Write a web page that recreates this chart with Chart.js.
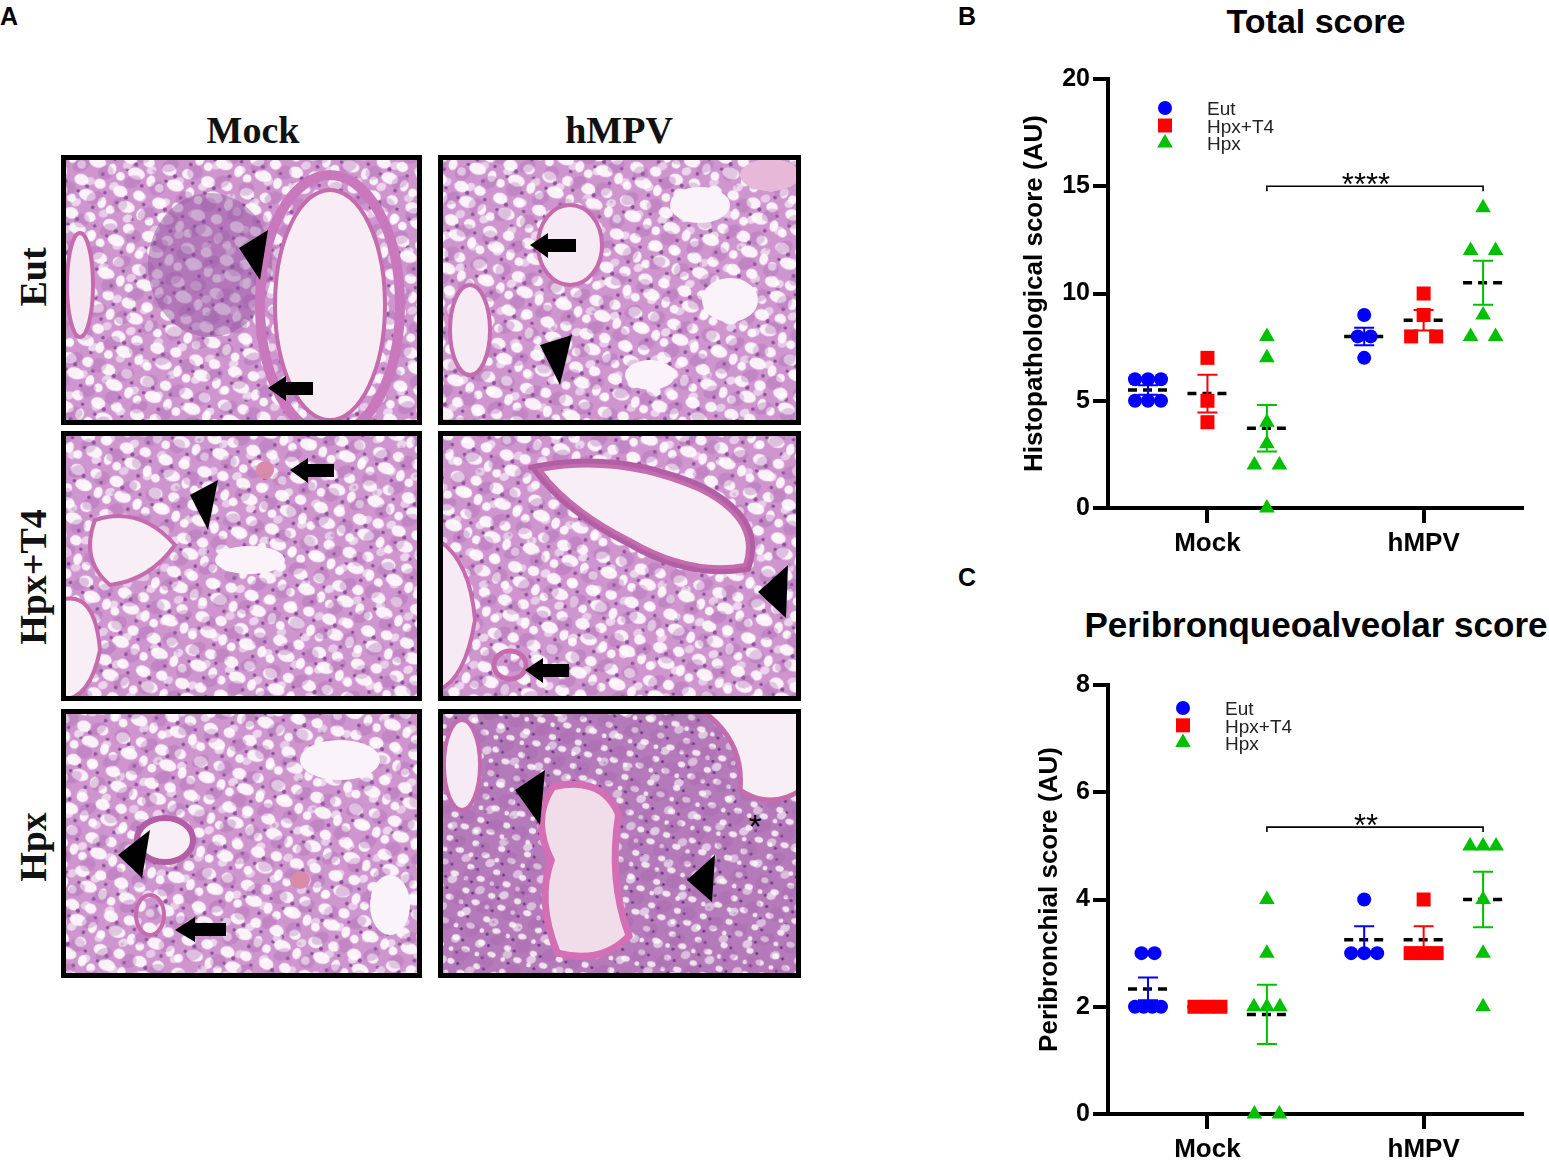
<!DOCTYPE html>
<html>
<head>
<meta charset="utf-8">
<title>Histopathological scores</title>
<script src="https://cdn.jsdelivr.net/npm/chart.js@4.4.1/dist/chart.umd.min.js"></script>
<style>
  body { margin: 0; width: 1549px; height: 1160px; overflow: hidden; background: #fff; position: relative;
         font-family: "Liberation Sans", Arial, sans-serif; }
  .letter { position: absolute; font-weight: bold; font-size: 25px; line-height: 25px; }
  .title { position: absolute; left: 1066px; width: 500px; text-align: center; font-weight: bold;
           line-height: 40px; white-space: nowrap; }
  canvas { position: absolute; }
  #panelA { position: absolute; left: 0; top: 0; }
</style>
</head>
<body>

<svg id="panelA" width="960" height="1000" viewBox="0 0 960 1000">
  <defs>
    <pattern id="tissue" width="28" height="24" patternUnits="userSpaceOnUse" patternTransform="rotate(17) scale(1.45)">
      <rect width="28" height="24" fill="#cf95cf"/>
      <ellipse cx="6" cy="6" rx="5" ry="4" fill="#fbf1f9"/>
      <ellipse cx="19" cy="5" rx="4" ry="3.5" fill="#fbf1f9"/>
      <ellipse cx="13" cy="15" rx="6" ry="4" fill="#fbf1f9"/>
      <ellipse cx="3" cy="20" rx="3" ry="3" fill="#fbf1f9"/>
      <ellipse cx="24" cy="17" rx="3" ry="4" fill="#fbf1f9"/>
      <circle cx="11" cy="9" r="1.4" fill="#8e4f9c"/>
      <circle cx="24" cy="10" r="1.2" fill="#8e4f9c"/>
      <circle cx="6" cy="14" r="1.2" fill="#8e4f9c"/>
      <circle cx="19" cy="22" r="1.3" fill="#8e4f9c"/>
    </pattern>
    <pattern id="tissue2" width="41" height="35" patternUnits="userSpaceOnUse" patternTransform="rotate(-23)">
      <ellipse cx="10" cy="9" rx="9" ry="6" fill="#a763ae" opacity="0.35"/>
      <ellipse cx="30" cy="25" rx="8" ry="7" fill="#a763ae" opacity="0.3"/>
      <ellipse cx="32" cy="6" rx="5" ry="4" fill="#ffffff" opacity="0.6"/>
      <ellipse cx="12" cy="27" rx="5" ry="4" fill="#ffffff" opacity="0.5"/>
    </pattern>
    <pattern id="dense" width="22" height="20" patternUnits="userSpaceOnUse" patternTransform="rotate(12) scale(1.2)">
      <rect width="22" height="20" fill="#b47ab9"/>
      <ellipse cx="6" cy="5" rx="3" ry="2.5" fill="#f3e3f1"/>
      <ellipse cx="16" cy="13" rx="3.5" ry="2.5" fill="#f3e3f1"/>
      <ellipse cx="4" cy="15" rx="2" ry="2" fill="#f3e3f1"/>
      <circle cx="12" cy="6" r="1.3" fill="#6e3b86"/>
      <circle cx="9" cy="17" r="1.3" fill="#6e3b86"/>
    </pattern>
    <clipPath id="c1"><rect x="61" y="155" width="361" height="270"/></clipPath>
    <clipPath id="c2"><rect x="438" y="155" width="363" height="270"/></clipPath>
    <clipPath id="c3"><rect x="61" y="431" width="361" height="270"/></clipPath>
    <clipPath id="c4"><rect x="438" y="431" width="363" height="270"/></clipPath>
    <clipPath id="c5"><rect x="61" y="709" width="361" height="269"/></clipPath>
    <clipPath id="c6"><rect x="438" y="709" width="363" height="269"/></clipPath>
  </defs>

  <g font-family="'Liberation Serif', 'Times New Roman', serif" font-weight="bold" font-size="38" fill="#111">
    <text x="253" y="143" text-anchor="middle">Mock</text>
    <text x="619" y="143" text-anchor="middle">hMPV</text>
    <text transform="translate(46 277) rotate(-90)" text-anchor="middle">Eut</text>
    <text transform="translate(46 577) rotate(-90)" text-anchor="middle">Hpx+T4</text>
    <text transform="translate(46 847) rotate(-90)" text-anchor="middle">Hpx</text>
  </g>

  <!-- Mock / Eut -->
  <g clip-path="url(#c1)">
    <rect x="61" y="155" width="361" height="270" fill="url(#tissue)"/>
    <rect x="61" y="155" width="361" height="270" fill="url(#tissue2)"/>
    <ellipse cx="210" cy="265" rx="62" ry="72" fill="#8f4f9e" opacity="0.45"/>
    <ellipse cx="330" cy="305" rx="70" ry="130" fill="none" stroke="#c978bd" stroke-width="10"/>
    <ellipse cx="330" cy="305" rx="55" ry="115" fill="#f8edf5" stroke="#c46cae" stroke-width="4"/>
    <ellipse cx="80" cy="285" rx="13" ry="52" fill="#f5e8f2" stroke="#c46cae" stroke-width="4"/>
    <polygon points="239,248 268,230 260,280" fill="#000"/>
    <polygon points="268,388 286,376 286,382 313,382 313,395 286,395 286,401" fill="#000"/>
  </g>
  <!-- hMPV / Eut -->
  <g clip-path="url(#c2)">
    <rect x="438" y="155" width="363" height="270" fill="url(#tissue)"/>
    <rect x="438" y="155" width="363" height="270" fill="url(#tissue2)"/>
    <ellipse cx="570" cy="245" rx="32" ry="40" fill="#f6ebf4" stroke="#c46cae" stroke-width="4"/>
    <ellipse cx="470" cy="330" rx="20" ry="45" fill="#f6ebf4" stroke="#c46cae" stroke-width="4"/>
    <ellipse cx="700" cy="205" rx="30" ry="18" fill="#fbf3fa"/>
    <ellipse cx="730" cy="300" rx="28" ry="22" fill="#fbf3fa"/>
    <ellipse cx="650" cy="375" rx="25" ry="15" fill="#fbf3fa"/>
    <ellipse cx="770" cy="175" rx="30" ry="16" fill="#e8b8d8"/>
    <polygon points="530,245 548,233 548,239 576,239 576,252 548,252 548,258" fill="#000"/>
    <polygon points="540,345 572,335 560,385" fill="#000"/>
  </g>
  <!-- Mock / Hpx+T4 -->
  <g clip-path="url(#c3)">
    <rect x="61" y="431" width="361" height="270" fill="url(#tissue)"/>
    <rect x="61" y="431" width="361" height="270" fill="url(#tissue2)"/>
    <path d="M95 520 Q140 505 175 545 Q150 580 110 585 Q80 560 95 520 Z" fill="#f8eef6" stroke="#c46cae" stroke-width="4"/>
    <path d="M61 600 Q95 590 100 650 Q90 700 61 700 Z" fill="#f8eef6" stroke="#c46cae" stroke-width="4"/>
    <ellipse cx="250" cy="560" rx="35" ry="14" fill="#fbf3fa"/>
    <ellipse cx="265" cy="470" rx="9" ry="9" fill="#d98aa8"/>
    <polygon points="190,495 218,480 208,530" fill="#000"/>
    <polygon points="290,470 308,458 308,464 334,464 334,477 308,477 308,483" fill="#000"/>
  </g>
  <!-- hMPV / Hpx+T4 -->
  <g clip-path="url(#c4)">
    <rect x="438" y="431" width="363" height="270" fill="url(#tissue)"/>
    <rect x="438" y="431" width="363" height="270" fill="url(#tissue2)"/>
    <path d="M540 470 Q620 455 700 490 Q760 520 745 565 Q690 575 630 540 Q570 510 540 470 Z" fill="none" stroke="#b25ea5" stroke-width="14"/>
    <path d="M540 470 Q620 455 700 490 Q760 520 745 565 Q690 575 630 540 Q570 510 540 470 Z" fill="#f8eef6" stroke="#c46cae" stroke-width="4"/>
    <path d="M438 540 Q470 560 475 620 Q465 680 438 690 Z" fill="#f6ebf4" stroke="#c46cae" stroke-width="4"/>
    <ellipse cx="510" cy="665" rx="16" ry="14" fill="none" stroke="#c46cae" stroke-width="5"/>
    <polygon points="758,592 788,565 786,618" fill="#000"/>
    <polygon points="525,670 543,658 543,664 569,664 569,677 543,677 543,683" fill="#000"/>
  </g>
  <!-- Mock / Hpx -->
  <g clip-path="url(#c5)">
    <rect x="61" y="709" width="361" height="269" fill="url(#tissue)"/>
    <rect x="61" y="709" width="361" height="269" fill="url(#tissue2)"/>
    <ellipse cx="165" cy="840" rx="28" ry="22" fill="#f8eef6" stroke="#b25ea5" stroke-width="6"/>
    <ellipse cx="150" cy="915" rx="14" ry="20" fill="none" stroke="#c46cae" stroke-width="4"/>
    <ellipse cx="340" cy="760" rx="40" ry="20" fill="#fbf3fa"/>
    <ellipse cx="390" cy="905" rx="20" ry="30" fill="#fbf3fa"/>
    <ellipse cx="300" cy="880" rx="10" ry="9" fill="#d98aa8"/>
    <polygon points="118,855 150,830 142,878" fill="#000"/>
    <polygon points="175,930 195,917 195,923 226,923 226,936 195,936 195,942" fill="#000"/>
  </g>
  <!-- hMPV / Hpx -->
  <g clip-path="url(#c6)">
    <rect x="438" y="709" width="363" height="269" fill="url(#dense)"/>
    <rect x="438" y="709" width="363" height="269" fill="url(#tissue2)"/>
    <path d="M555 790 Q600 780 615 815 Q605 880 625 935 Q600 960 560 950 Q540 900 555 860 Q535 820 555 790 Z" fill="none" stroke="#d46fb5" stroke-width="14"/>
    <path d="M555 790 Q600 780 615 815 Q605 880 625 935 Q600 960 560 950 Q540 900 555 860 Q535 820 555 790 Z" fill="#f1dde9"/>
    <path d="M700 709 Q745 740 740 790 Q770 810 801 790 L801 709 Z" fill="#f8eef6" stroke="#c46cae" stroke-width="5"/>
    <ellipse cx="462" cy="765" rx="18" ry="45" fill="#f6ebf4" stroke="#c46cae" stroke-width="4"/>
    <polygon points="515,790 545,770 540,825" fill="#000"/>
    <polygon points="687,880 715,855 712,902" fill="#000"/>
    <text x="755" y="838" font-family="'Liberation Sans', Arial, sans-serif" font-size="34" text-anchor="middle" fill="#000">*</text>
  </g>

  <g fill="none" stroke="#000" stroke-width="5">
    <rect x="63.5" y="157.5" width="356" height="265"/>
    <rect x="440.5" y="157.5" width="358" height="265"/>
    <rect x="63.5" y="433.5" width="356" height="265"/>
    <rect x="440.5" y="433.5" width="358" height="265"/>
    <rect x="63.5" y="711.5" width="356" height="264"/>
    <rect x="440.5" y="711.5" width="358" height="264"/>
  </g>
</svg>

<div class="letter" style="left:0;top:4px">A</div>
<div class="letter" style="left:958px;top:4px">B</div>
<div class="letter" style="left:958px;top:565px">C</div>
<div class="title" style="top:1px;font-size:34px">Total score</div>
<div class="title" style="top:605px;font-size:35px">Peribronqueoalveolar score</div>

<canvas id="chartB" width="549" height="575" style="left:1000px;top:0"></canvas>
<canvas id="chartC" width="549" height="560" style="left:1000px;top:600px"></canvas>

<script>
const groups = ['Mock', 'hMPV'];
const seriesNames = ['Eut', 'Hpx+T4', 'Hpx'];
const seriesColors = ['#0000ff', '#ff0000', '#00c000'];
const seriesShapes = ['circle', 'rect', 'triangle'];
const seriesRadius = [7, 9.9, 9];

// B - total histopathological score, [Mock, hMPV] for each series
const totalEut = [[6, 6, 6, 5, 5, 5], [9, 8, 8, 7]];
const totalHpxT4 = [[7, 5, 4], [10, 9, 8, 8]];
const totalHpx = [[8, 7, 4, 3, 2, 2, 0], [14, 12, 12, 9, 8, 8]];
const totalTicks = [0, 5, 10, 15, 20];
const totalSig = ['****', 15];

// C - peribronchial score
const periEut = [[3, 3, 2, 2, 2, 2], [4, 3, 3, 3]];
const periHpxT4 = [[2, 2, 2], [4, 3, 3, 3]];
const periHpx = [[4, 3, 2, 2, 2, 0, 0], [5, 5, 5, 4, 3, 2]];
const periTicks = [0, 2, 4, 6, 8];
const periSig = ['**', 5.35];

// x axis: Mock = 1, hMPV = 2
const X_MIN = 0.54, X_MAX = 2.455, PLOT_W = 414;
const PX = PLOT_W / (X_MAX - X_MIN);      // pixels per x unit
const seriesShift = [-0.275, 0, 0.275];

Chart.defaults.font.family = '"Liberation Sans", Arial, sans-serif';
Chart.defaults.color = '#000';

const mean = a => a.reduce((s, v) => s + v, 0) / a.length;
const sem = a => {
  const m = mean(a);
  return Math.sqrt(a.reduce((s, v) => s + (v - m) ** 2, 0) / (a.length - 1) / a.length);
};

// spread equal values sideways like a column scatter
function swarm(values, shape) {
  const counts = {}, seen = {};
  values.forEach(v => { counts[v] = (counts[v] || 0) + 1; });
  return values.map(v => {
    const n = counts[v];
    const i = seen[v] = (seen[v] === undefined ? 0 : seen[v] + 1);
    if (n === 1) return 0;
    const step = n === 2 && shape !== 'circle' ? 25 : Math.min(13, 26 / (n - 1));
    return (i - (n - 1) / 2) * step / PX;
  });
}

function buildDatasets(seriesData) {
  const meanPts = [], errSets = [], pointSets = [];
  seriesData.forEach((byGroup, s) => {
    const err = [], pts = [];
    byGroup.forEach((vals, g) => {
      const cx = g + 1 + seriesShift[s];
      const m = mean(vals), e = sem(vals), cap = 10 / PX;
      meanPts.push({x: cx - 20 / PX, y: m}, {x: cx + 20 / PX, y: m}, {x: cx, y: null});
      err.push({x: cx - cap, y: m + e}, {x: cx + cap, y: m + e}, {x: cx, y: null},
               {x: cx, y: m + e}, {x: cx, y: m - e}, {x: cx, y: null},
               {x: cx - cap, y: m - e}, {x: cx + cap, y: m - e}, {x: cx, y: null});
      swarm(vals, seriesShapes[s]).forEach((dx, i) => pts.push({x: cx + dx, y: vals[i]}));
    });
    errSets.push({
      type: 'line', data: err, showLine: true, spanGaps: false, clip: false,
      borderColor: seriesColors[s], borderWidth: 2, pointRadius: 0
    });
    pointSets.push({
      type: 'scatter', label: seriesNames[s], data: pts, clip: false,
      pointStyle: seriesShapes[s], pointRadius: seriesRadius[s],
      backgroundColor: seriesColors[s], borderColor: seriesColors[s], borderWidth: 0
    });
  });
  const meanSet = {
    type: 'line', data: meanPts, showLine: true, spanGaps: false, clip: false,
    borderColor: '#000', borderWidth: 3.5, borderDash: [9, 6], pointRadius: 0
  };
  // first dataset is drawn on top: error bars, then points, mean dashes underneath
  return [...errSets, ...pointSets, meanSet];
}

const insideLegend = {
  id: 'insideLegend',
  afterDraw(chart, args, opts) {
    const {ctx, chartArea} = chart;
    ctx.save();
    ctx.font = '19px "Liberation Sans", Arial, sans-serif';
    ctx.textBaseline = 'middle';
    seriesNames.forEach((name, i) => {
      const y = chartArea.top + opts.top + i * opts.gap;
      ctx.fillStyle = seriesColors[i];
      Chart.helpers.drawPoint(ctx, {pointStyle: seriesShapes[i], radius: seriesRadius[i], borderWidth: 0},
        chartArea.left + opts.markerX, y);
      ctx.fillStyle = '#222';
      ctx.fillText(name, chartArea.left + opts.textX, y + 2);
    });
    ctx.restore();
  }
};

const sigBracket = {
  id: 'sigBracket',
  afterDatasetsDraw(chart, args, opts) {
    const {ctx, scales: {x, y}} = chart;
    const x1 = x.getPixelForValue(1 + seriesShift[2]);
    const x2 = x.getPixelForValue(2 + seriesShift[2]);
    const yp = y.getPixelForValue(opts.sig[1]);
    ctx.save();
    ctx.strokeStyle = '#000';
    ctx.lineWidth = 1.6;
    ctx.beginPath();
    ctx.moveTo(x1, yp + 5); ctx.lineTo(x1, yp); ctx.lineTo(x2, yp); ctx.lineTo(x2, yp + 5);
    ctx.stroke();
    ctx.fillStyle = '#000';
    ctx.font = '31px "Liberation Sans", Arial, sans-serif';
    ctx.textAlign = 'center';
    ctx.textBaseline = 'alphabetic';
    ctx.fillText(opts.sig[0], (x1 + x2) / 2 - 9, yp + 9);
    ctx.restore();
  }
};

function makeChart(id, cfg) {
  return new Chart(document.getElementById(id), {
    type: 'scatter',
    data: {datasets: buildDatasets(cfg.series)},
    options: {
      responsive: false,
      animation: false,
      events: [],
      layout: {padding: {top: cfg.top, right: 27, bottom: 0, left: 0}},
      plugins: {
        legend: {display: false},
        tooltip: {enabled: false},
        insideLegend: cfg.legend,
        sigBracket: {sig: cfg.sig}
      },
      scales: {
        x: {
          type: 'linear', min: X_MIN, max: X_MAX,
          afterBuildTicks: axis => { axis.ticks = groups.map((g, i) => ({value: i + 1})); },
          afterFit: axis => { axis.height = cfg.xHeight; },
          ticks: {
            callback: (v, i) => groups[i], autoSkip: false, maxRotation: 0,
            font: {size: 26, weight: 'bold'}, color: '#000', padding: 5
          },
          grid: {drawOnChartArea: false, tickLength: 15, tickWidth: 4, lineWidth: 4, tickColor: '#000'},
          border: {display: true, width: 4, color: '#000'}
        },
        y: {
          min: 0, max: cfg.ticks[cfg.ticks.length - 1],
          afterBuildTicks: axis => { axis.ticks = cfg.ticks.map(v => ({value: v})); },
          afterFit: axis => { axis.width = 108; },
          ticks: {font: {size: 25, weight: 'bold'}, color: '#000', padding: 3},
          grid: {drawOnChartArea: false, tickLength: 15, tickWidth: 4, lineWidth: 4, tickColor: '#000'},
          border: {display: true, width: 4, color: '#000'},
          title: {
            display: true, text: cfg.yTitle, color: '#000',
            font: {size: 26, weight: 'bold'}, padding: {top: cfg.titlePad, bottom: 0}
          }
        }
      }
    },
    plugins: [insideLegend, sigBracket]
  });
}

makeChart('chartB', {
  series: [totalEut, totalHpxT4, totalHpx],
  ticks: totalTicks,
  sig: totalSig,
  yTitle: 'Histopathological score (AU)',
  top: 79, xHeight: 67, titlePad: 19.4,
  legend: {markerX: 57, textX: 99, top: 29, gap: 17.5}
});

makeChart('chartC', {
  series: [periEut, periHpxT4, periHpx],
  ticks: periTicks,
  sig: periSig,
  yTitle: 'Peribronchial score (AU)',
  top: 85, xHeight: 46, titlePad: 34.4,
  legend: {markerX: 75, textX: 117, top: 23, gap: 17.3}
});
</script>
</body>
</html>
